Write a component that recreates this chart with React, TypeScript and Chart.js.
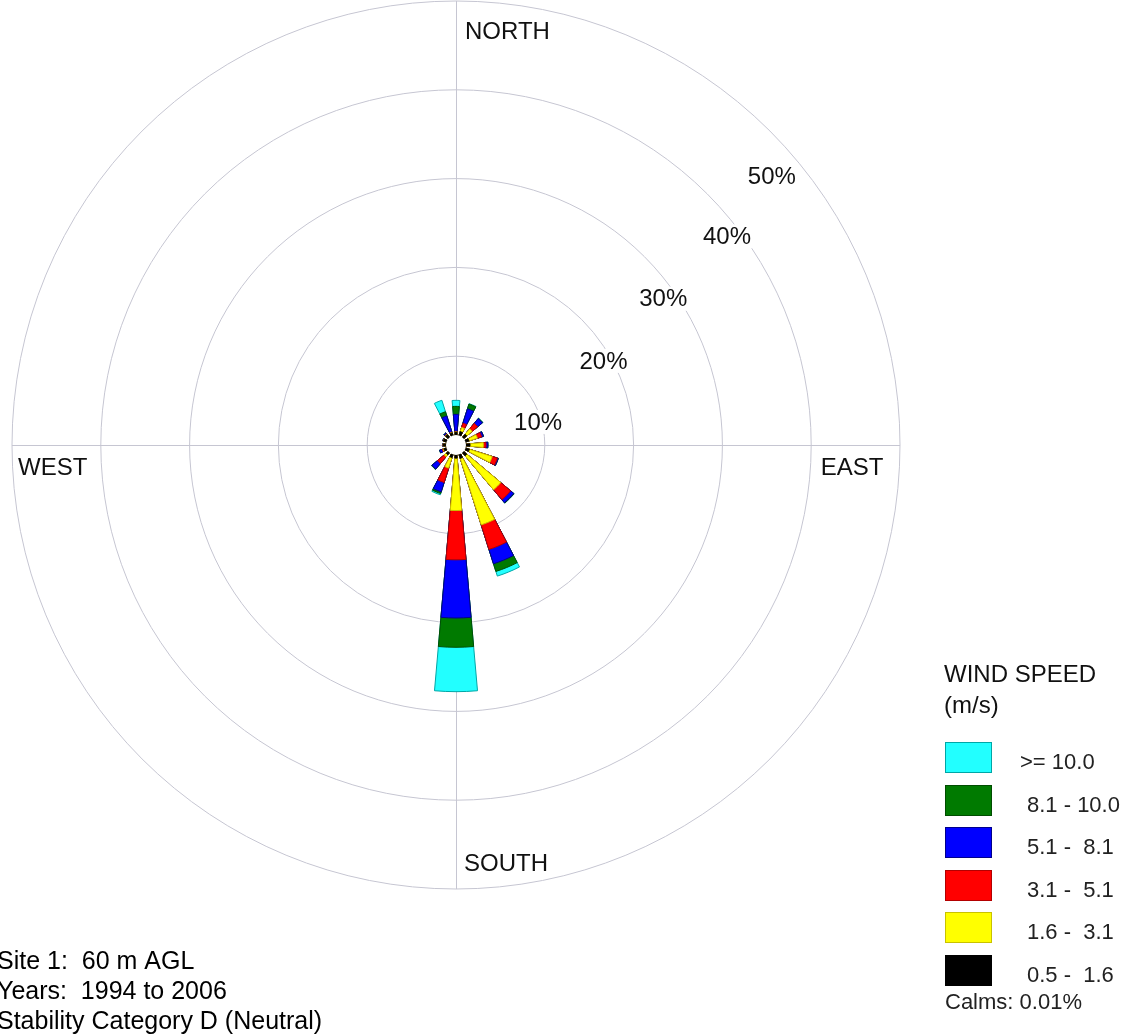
import { useEffect, useRef } from 'react';
import { Chart, registerables } from 'chart.js';

Chart.register(...registerables);

// ---- DATA ----
const DIRECTIONS = ['N', 'NNE', 'NE', 'ENE', 'E', 'ESE', 'SE', 'SSE', 'S', 'SSW', 'SW', 'WSW', 'W', 'WNW', 'NW', 'NNW'];

// percent frequency of each speed class per direction (m/s)
const BIN_05_16 = [0.30, 0.45, 0.45, 0.40, 0.45, 0.45, 0.45, 0.45, 0.35, 0.35, 0.30, 0.30, 0.30, 0.35, 0.40, 0.30];
const BIN_16_31 = [0.05, 0.50, 0.80, 1.00, 1.50, 2.70, 5.00, 7.85, 5.90, 1.25, 0.30, 0.10, 0.02, 0.02, 0.05, 0.05];
const BIN_31_51 = [0.05, 0.50, 0.80, 0.50, 0.30, 0.60, 1.45, 2.90, 5.55, 1.70, 1.00, 0.10, 0.02, 0.02, 0.05, 0.05];
const BIN_51_81 = [1.92, 1.70, 0.70, 0.20, 0.20, 0.10, 0.45, 1.70, 6.55, 1.10, 0.80, 0.30, 0.05, 0.05, 0.15, 1.90];
const BIN_81_100 = [0.90, 0.55, 0.05, 0.02, 0.02, 0.02, 0.05, 0.90, 3.30, 0.20, 0.05, 0.02, 0.00, 0.00, 0.02, 0.50];
const BIN_GE_100 = [0.68, 0.05, 0.02, 0.00, 0.00, 0.00, 0.02, 0.55, 5.00, 0.15, 0.02, 0.00, 0.00, 0.00, 0.00, 1.35];

const SPEED_LABELS = ['0.5 -  1.6', '1.6 -  3.1', '3.1 -  5.1', '5.1 -  8.1', '8.1 - 10.0', '>= 10.0'];
const SPEED_COLORS = ['#000000', '#ffff00', '#ff0000', '#0000ff', '#007a00', '#22ffff'];
const SPEED_BORDERS = ['#000000', '#c9c200', '#b30000', '#00008c', '#004d00', '#00a6a6'];

const RING_VALUES = [10, 20, 30, 40, 50];
const RING_LABELS = ['10%', '20%', '30%', '40%', '50%'];
const CALMS = '0.01%';
const CALM_CIRCLE_PCT = 1.13; // radius of the calm circle, in % units of the radial axis

const FOOTER_LINES = ['Site 1:  60 m AGL', 'Years:  1994 to 2006', 'Stability Category D (Neutral)'];

// ---- layout / style ----
const W = 1139;
const H = 1036;
const FONT = '"Liberation Sans", Arial, Helvetica, sans-serif';
const GRID = '#c6c6d2';
const BAR_ANGLE = 10;
const GAP_ANGLE = 22.5 - BAR_ANGLE;
// ring label placement: angle above horizontal (deg) and radius ratio
const RING_LABEL_ANGLES = [15.7, 29.7, 35.2, 37.6, 40.4];
const RING_LABEL_RATIOS = [0.96, 0.956, 0.952, 0.963, 0.934];

const BINS = [BIN_05_16, BIN_16_31, BIN_31_51, BIN_51_81, BIN_81_100, BIN_GE_100];

function buildDatasets() {
  const cumulative = DIRECTIONS.map(() => CALM_CIRCLE_PCT);
  return BINS.map((bin, b) => {
    const data: number[] = [];
    DIRECTIONS.forEach((_, d) => {
      cumulative[d] += bin[d];
      data.push(cumulative[d]);
      data.push(0);
    });
    return {
      label: SPEED_LABELS[b],
      data,
      backgroundColor: (ctx: any) => (ctx.dataIndex % 2 === 0 ? SPEED_COLORS[b] : 'rgba(0,0,0,0)'),
      borderColor: (ctx: any) => (ctx.dataIndex % 2 === 0 ? SPEED_BORDERS[b] : 'rgba(0,0,0,0)'),
      borderWidth: (ctx: any) => (ctx.dataIndex % 2 === 0 ? 1 : 0),
      angle: (ctx: any) => (ctx.dataIndex % 2 === 0 ? BAR_ANGLE : GAP_ANGLE),
    };
  });
}

const decorPlugin = {
  id: 'windRoseDecor',
  beforeDatasetsDraw(chart: any) {
    const s = chart.scales.r;
    const ctx = chart.ctx;
    const R = s.drawingArea;
    ctx.save();
    ctx.strokeStyle = GRID;
    ctx.lineWidth = 1;
    ctx.beginPath();
    ctx.moveTo(s.xCenter + 0.5, s.yCenter - R);
    ctx.lineTo(s.xCenter + 0.5, s.yCenter + R);
    ctx.moveTo(s.xCenter - R, s.yCenter + 0.5);
    ctx.lineTo(s.xCenter + R, s.yCenter + 0.5);
    ctx.stroke();
    ctx.restore();
  },
  afterDatasetsDraw(chart: any) {
    const s = chart.scales.r;
    const ctx = chart.ctx;
    const cx = s.xCenter;
    const cy = s.yCenter;
    ctx.save();
    // calm circle
    ctx.beginPath();
    ctx.arc(cx, cy, s.getDistanceFromCenterForValue(CALM_CIRCLE_PCT), 0, Math.PI * 2);
    ctx.fillStyle = '#ffffff';
    ctx.fill();

    // ring labels
    ctx.font = `24px ${FONT}`;
    ctx.textBaseline = 'middle';
    ctx.textAlign = 'center';
    RING_VALUES.forEach((v, i) => {
      const r = s.getDistanceFromCenterForValue(v) * RING_LABEL_RATIOS[i];
      const a = (RING_LABEL_ANGLES[i] * Math.PI) / 180;
      const x = cx + r * Math.cos(a);
      const y = cy - r * Math.sin(a);
      const tw = ctx.measureText(RING_LABELS[i]).width;
      ctx.fillStyle = '#ffffff';
      ctx.fillRect(x - tw / 2 - 2, y - 12, tw + 4, 24);
      ctx.fillStyle = '#111111';
      ctx.fillText(RING_LABELS[i], x, y + 1);
    });

    // direction labels
    const dirLabel = (t: string, x: number, y: number, align: CanvasTextAlign) => {
      ctx.textAlign = align;
      const tw = ctx.measureText(t).width;
      const left = align === 'left' ? x : align === 'center' ? x - tw / 2 : x - tw;
      ctx.fillStyle = '#ffffff';
      ctx.fillRect(left - 2, y - 12, tw + 4, 24);
      ctx.fillStyle = '#111111';
      ctx.fillText(t, x, y + 1);
    };
    dirLabel('NORTH', cx + 9, cy - 414, 'left');
    dirLabel('SOUTH', cx + 8, cy + 418, 'left');
    dirLabel('EAST', cx + 396, cy + 22, 'center');
    dirLabel('WEST', cx - 438, cy + 22, 'left');

    // legend
    ctx.textAlign = 'left';
    ctx.textBaseline = 'alphabetic';
    ctx.fillStyle = '#111111';
    ctx.font = `24px ${FONT}`;
    ctx.fillText('WIND SPEED', 944, 682);
    ctx.fillText('(m/s)', 944, 713);
    const tops = [742, 785, 827, 870, 912, 955];
    ctx.font = `22px ${FONT}`;
    for (let k = 0; k < 6; k++) {
      const b = 5 - k;
      const top = tops[k];
      ctx.fillStyle = SPEED_COLORS[b];
      ctx.fillRect(945, top, 47, 31);
      ctx.strokeStyle = SPEED_BORDERS[b];
      ctx.lineWidth = 1;
      ctx.strokeRect(945.5, top + 0.5, 46, 30);
      ctx.fillStyle = '#222222';
      ctx.fillText(SPEED_LABELS[b], b === 5 ? 1020 : 1027, top + 27);
    }
    ctx.fillText(`Calms: ${CALMS}`, 945, 1009);

    // footer
    ctx.font = `25px ${FONT}`;
    ctx.fillStyle = '#000000';
    const baselines = [969, 999, 1029];
    FOOTER_LINES.forEach((t, i) => ctx.fillText(t, -3, baselines[i]));
    ctx.restore();
  },
};

export default function App() {
  const ref = useRef<HTMLCanvasElement | null>(null);
  useEffect(() => {
    if (!ref.current) return;
    const labels: string[] = [];
    DIRECTIONS.forEach((d) => {
      labels.push(d);
      labels.push('');
    });
    const chart = new Chart(ref.current, {
      type: 'polarArea',
      data: { labels, datasets: buildDatasets() as any },
      options: {
        responsive: false,
        animation: false,
        events: [],
        layout: { padding: { left: 12, right: 239, top: 1, bottom: 147 } },
        plugins: { legend: { display: false }, tooltip: { enabled: false } },
        scales: {
          r: {
            min: 0,
            max: 50,
            startAngle: -BAR_ANGLE / 2,
            ticks: { display: false, stepSize: 10 },
            grid: { circular: true, color: GRID, lineWidth: 1 },
            angleLines: { display: false },
            pointLabels: { display: false },
          },
        },
      } as any,
      plugins: [decorPlugin],
    });
    return () => chart.destroy();
  }, []);
  return (
    <div style={{ position: 'absolute', left: 0, top: 0, width: W, height: H, background: '#fff' }}>
      <canvas ref={ref} width={W} height={H} style={{ display: 'block' }} />
    </div>
  );
}
